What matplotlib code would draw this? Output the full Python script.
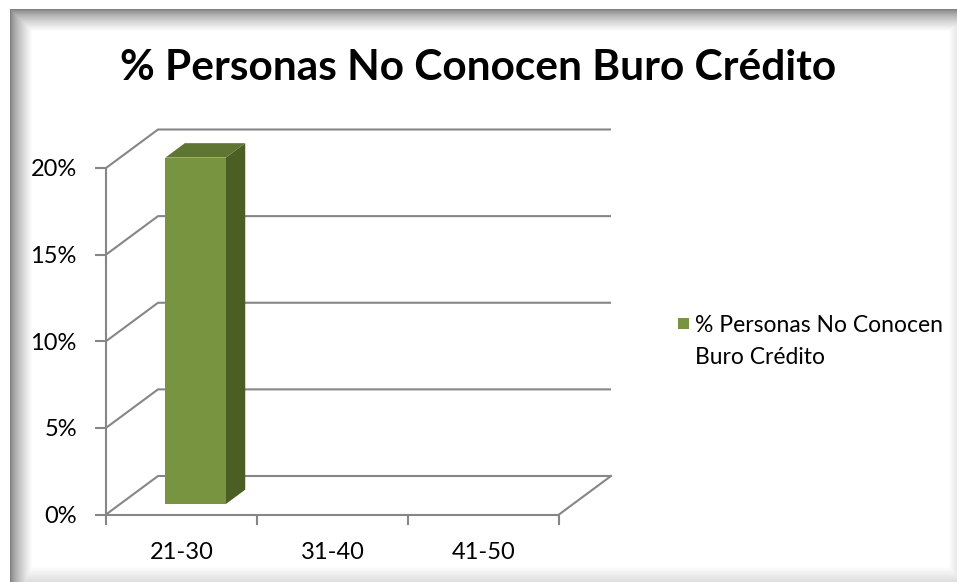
import numpy as np
import matplotlib
matplotlib.use("Agg")
import matplotlib.pyplot as plt
from matplotlib.patches import Polygon, Rectangle
from matplotlib.ticker import PercentFormatter

# ---------------- data ----------------
categories = ["21-30", "31-40", "41-50"]
values = [0.20, 0.0, 0.0]
y_ticks = [0.0, 0.05, 0.10, 0.15, 0.20]
title_text = "% Personas No Conocen Buro Crédito"
series_name = "% Personas No Conocen\nBuro Crédito"

# ---------------- style ----------------
W, H, DPI = 957, 582, 100
FONT = "Lato"
GRID = "#868686"
FRONT = "#789441"
TOP = "#5E7631"
SIDE = "#4B5F25"
LABEL_SIZE = 17
LEGEND_SIZE = 16.5

fig = plt.figure(figsize=(W / DPI, H / DPI), dpi=DPI)

# frame with soft inner shadow (background)
bg = fig.add_axes([0, 0, 1, 1])
bg.set_axis_off()
yy, xx = np.mgrid[0:H, 0:W].astype(float)
x0f, y0f = 10.0, 9.0
top = 0.50 + 0.50 * np.clip((yy - y0f) / 22.0, 0, 1) ** 0.7
left = 0.50 + 0.50 * np.clip((xx - x0f) / 22.0, 0, 1) ** 0.7
bottom = 1.0 - 0.14 * np.clip((yy - 566.0) / 16.0, 0, 1)
right = 1.0 - 0.10 * np.clip((xx - 948.0) / 9.0, 0, 1)
shade = np.minimum.reduce([top, left, bottom, right])
shade[(xx < x0f) | (yy < y0f)] = 1.0
bg.imshow(shade, cmap="gray", vmin=0, vmax=1, extent=(0, W, H, 0),
          aspect="auto", interpolation="bilinear")
bg.set_xlim(0, W)
bg.set_ylim(H, 0)

# ---------------- plot area (front plane) ----------------
L, R, B, T = 106, 559, 514.5, 168
ax = fig.add_axes([L / W, 1 - B / H, (R - L) / W, (B - T) / H])
n = len(categories)
ymax = y_ticks[-1]
ax.set_xlim(0, n)
ax.set_ylim(0, ymax)
ax.patch.set_alpha(0)

# depth offset of the 3-D box, expressed in data units
DEPTH_PX = (52.0, 38.5)
DX = DEPTH_PX[0] / ((R - L) / n)
DY = DEPTH_PX[1] / ((B - T) / ymax)

for s in ["top", "right"]:
    ax.spines[s].set_visible(False)
for s in ["left", "bottom"]:
    ax.spines[s].set_color(GRID)
    ax.spines[s].set_linewidth(1.5)

# gridlines on back wall + side wall
for v in y_ticks:
    ax.plot([0, DX, n + DX], [v, v + DY, v + DY], color=GRID, lw=1.5,
            clip_on=False, zorder=1, solid_capstyle="butt")
ax.plot([n, n + DX], [0, DY], color=GRID, lw=1.5, clip_on=False, zorder=1)

# 3-D columns
BAR_W = 0.40
D0, D1 = 0.27, 0.645
for i, v in enumerate(values):
    if v <= 0:
        continue
    xl = i + 0.5 - BAR_W / 2
    xr = i + 0.5 + BAR_W / 2
    ox0, oy0 = D0 * DX, D0 * DY
    ox1, oy1 = D1 * DX, D1 * DY
    side = Polygon([(xr + ox0, oy0), (xr + ox1, oy1), (xr + ox1, v + oy1), (xr + ox0, v + oy0)],
                   closed=True, facecolor=SIDE, edgecolor="none", zorder=3, clip_on=False)
    topf = Polygon([(xl + ox0, v + oy0), (xr + ox0, v + oy0), (xr + ox1, v + oy1), (xl + ox1, v + oy1)],
                   closed=True, facecolor=TOP, edgecolor="none", zorder=3, clip_on=False)
    ax.add_patch(side)
    ax.add_patch(topf)
    ax.bar(i + 0.5 + ox0, v, width=BAR_W, bottom=oy0, color=FRONT,
           zorder=4, clip_on=False)

# ticks
ax.set_yticks(y_ticks)
ax.yaxis.set_major_formatter(PercentFormatter(1.0, decimals=0))
ax.tick_params(axis="y", length=8, width=1.5, color=GRID, pad=13,
               labelsize=LABEL_SIZE)
ax.set_xticks(range(n + 1))
ax.set_xticklabels([""] * (n + 1))
ax.set_xticks([i + 0.5 for i in range(n)], minor=True)
ax.set_xticklabels(categories, minor=True)
ax.tick_params(axis="x", which="major", length=7, width=1.5, color=GRID)
ax.tick_params(axis="x", which="minor", length=0, pad=20, labelsize=LABEL_SIZE)
for lab in ax.get_xticklabels(minor=True) + ax.get_yticklabels():
    lab.set_fontfamily(FONT)

renderer = fig.canvas.get_renderer()

# title
title = fig.text(478 / W, 1 - 80 / H, title_text, ha="center", va="baseline",
                 fontsize=30, fontweight="bold", fontfamily=FONT)
wpx = title.get_window_extent(renderer).width
title.set_fontsize(30 * 715.0 / wpx)

# legend (key square + two-line label), right edge of text at x=943 px
lines = series_name.split("\n")
base_y = [332.0, 363.5]
t_objs = [fig.text(0, 1 - by / H, ln, ha="left", va="baseline",
                   fontsize=LEGEND_SIZE, fontfamily=FONT)
          for ln, by in zip(lines, base_y)]
w1 = max(t.get_window_extent(renderer).width for t in t_objs)
text_left = 943.0 - w1
for t in t_objs:
    t.set_x(text_left / W)
KEY = 11.0
fig.patches.append(Rectangle(((text_left - 6 - KEY) / W, 1 - (318 + KEY) / H),
                             KEY / W, KEY / H, transform=fig.transFigure,
                             facecolor=FRONT, edgecolor="none"))

fig.savefig("out.png", dpi=DPI)
